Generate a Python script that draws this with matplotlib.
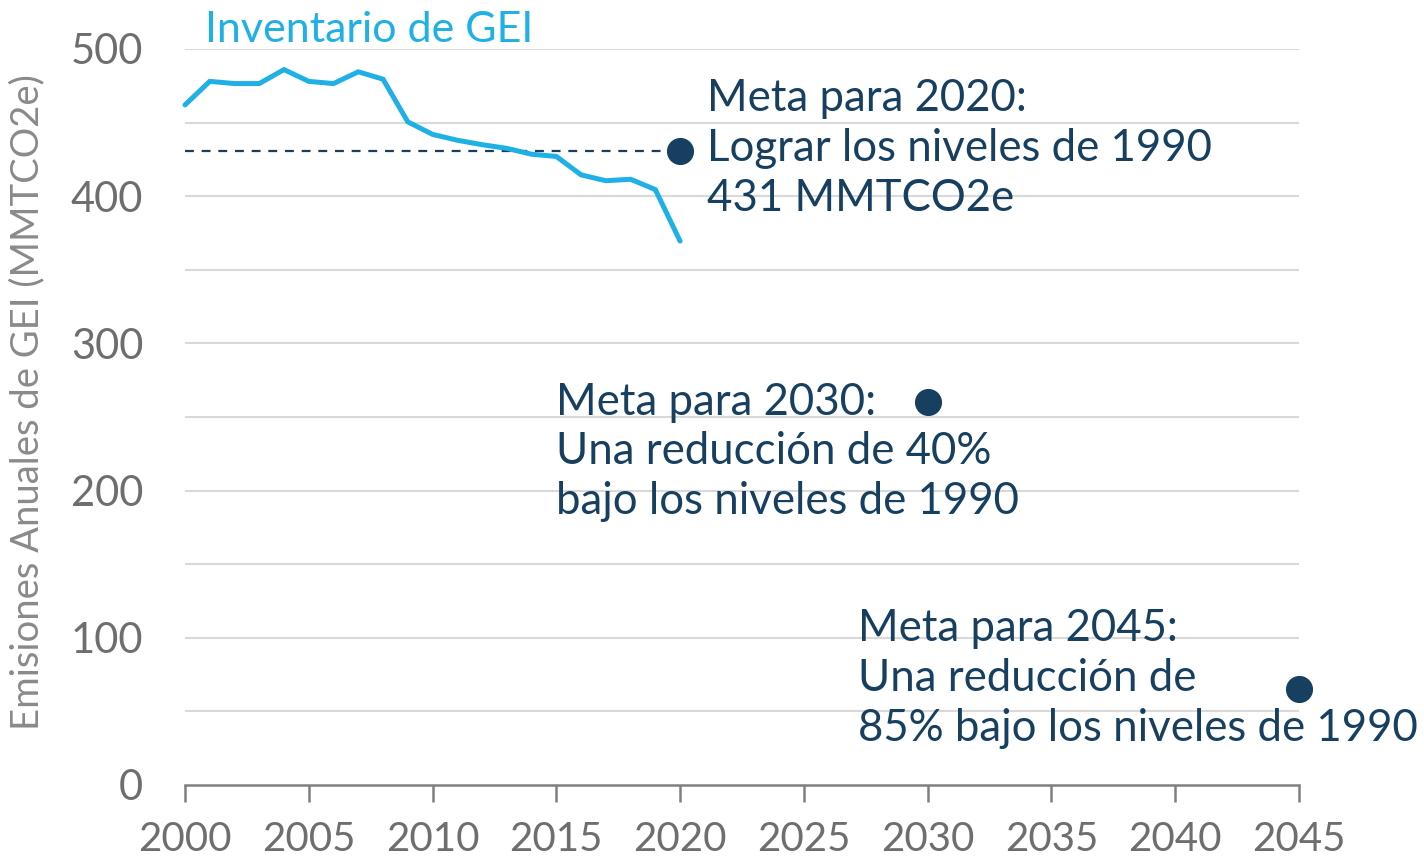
import matplotlib
matplotlib.use("Agg")
import matplotlib.pyplot as plt

# Inventario de GEI (MMTCO2e)
years = list(range(2000, 2021))
emissions = [462, 478, 476.5, 476.5, 486, 478, 476.5, 484.5, 479.5, 450.5,
             442, 438, 435, 432.5, 428.5, 427, 414.5, 410.5, 411.5, 404.5, 369.5]

nivel_1990 = 431
meta_years = [2020, 2030, 2045]
meta_values = [431, 260, 65]
meta_labels = [
    "Meta para 2020:\nLograr los niveles de 1990\n431 MMTCO2e",
    "Meta para 2030:\nUna reducción de 40%\nbajo los niveles de 1990",
    "Meta para 2045:\nUna reducción de\n85% bajo los niveles de 1990",
]
label_pos = [(2021.1, 480), (2015.0, 274), (2027.2, 120)]

xticks = list(range(2000, 2046, 5))
yticks = [0, 100, 200, 300, 400, 500]

plt.rcParams['font.family'] = ['Lato', 'DejaVu Sans']

LINE = "#1fb0e6"
NAVY = "#163f60"
GRAY = "#6e6e6e"

fig = plt.figure(figsize=(14.24, 8.58), dpi=100)
ax = fig.add_axes([0.1299, 0.0851, 0.7823, 0.8578])

ax.set_xlim(2000, 2045)
ax.set_ylim(0, 500)

for v in range(50, 501, 50):
    ax.axhline(v, color="#d9d9d9", lw=1.5, zorder=0)

ax.plot([2000, 2019.6], [nivel_1990, nivel_1990], color=NAVY, lw=1.6,
        dashes=(4, 3.5), zorder=2)
ax.plot(years, emissions, color=LINE, lw=3.6, solid_capstyle="round",
        solid_joinstyle="miter", zorder=3, clip_on=False)
ax.plot(meta_years, meta_values, "o", color=NAVY, ms=18.5, zorder=4,
        clip_on=False)

ax.text(2000.8, 505, "Inventario de GEI", color=LINE, fontsize=31,
        va="baseline", ha="left")

for (tx, ty), lab in zip(label_pos, meta_labels):
    ax.text(tx, ty, lab, color=NAVY, fontsize=31.5, va="top", ha="left",
            linespacing=1.26)

for s in ["top", "right", "left"]:
    ax.spines[s].set_visible(False)
ax.spines["bottom"].set_color("#808080")
ax.spines["bottom"].set_linewidth(1.8)

ax.set_xticks(xticks)
ax.set_yticks(yticks)
ax.tick_params(axis="x", length=12, width=1.8, color="#808080", pad=14,
               labelsize=29, labelcolor=GRAY)
ax.tick_params(axis="y", length=0, pad=30, labelsize=30, labelcolor=GRAY)

ax.set_ylabel("Emisiones Anuales de GEI (MMTCO2e)", color="#8a8a8a",
              fontsize=27.5)
ax.yaxis.set_label_coords(-0.125, 0.52)

fig.savefig("out.png", dpi=100)
